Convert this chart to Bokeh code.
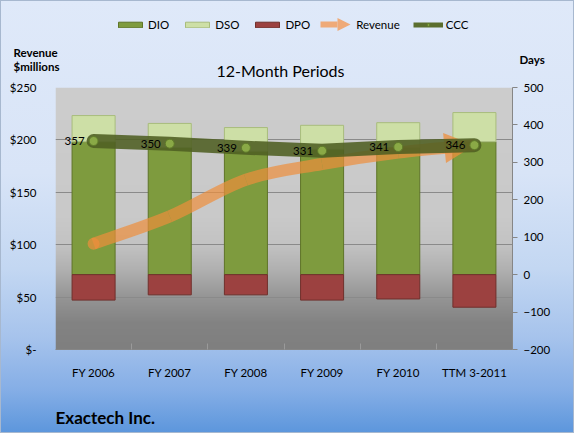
import numpy as np
from bokeh.plotting import figure
from bokeh.layouts import column
from bokeh.models import (Range1d, LinearAxis, FixedTicker, Legend, LegendItem, Label,
                          Arrow, NormalHead, ColumnDataSource, Grid)
from bokeh.embed import file_html
from bokeh.resources import INLINE
from bokeh.core.properties import value

# ---------------- data ----------------
categories = ["FY 2006", "FY 2007", "FY 2008", "FY 2009", "FY 2010", "TTM 3-2011"]
dio = [355, 340, 330, 335, 340, 355]          # days inventory outstanding
dso = [70, 64, 63, 64, 66, 78]                # days sales outstanding
dpo = [68, 54, 54, 68, 65, 87]                # days payables outstanding
ccc = [357, 350, 339, 331, 341, 346]          # cash conversion cycle
revenue = [101, 127, 162, 177, 188, 195]      # $ millions
revenue_ticks = [0, 50, 100, 150, 200, 250]
revenue_tick_labels = ["$-", "$50", "$100", "$150", "$200", "$250"]
days_ticks = [-200, -100, 0, 100, 200, 300, 400, 500]

FONT = "Lato"
W, H = 574, 433
HEAD_H, FOOT_H = 80, 48
MAIN_H = H - HEAD_H - FOOT_H
FL, FR, FT, FB = 55, 512, 87, 349   # frame edges on the page (px)

C_DIO, C_DIO_L = "#7e9b3e", "#5e7428"
C_DSO, C_DSO_L = "#cddfa6", "#a8bc7c"
C_DPO, C_DPO_L = "#9c4140", "#70302c"
ORANGE = "#ee8f3c"
C_CCC = "#4e5f22"


def blank(height):
    f = figure(width=W, height=height, output_backend="svg", toolbar_location=None,
               x_range=Range1d(0, W), y_range=Range1d(height, 0),
               x_axis_location=None, y_axis_location=None,
               min_border=0, frame_align=False)
    f.xgrid.visible = False
    f.ygrid.visible = False
    f.border_fill_alpha = 0
    f.background_fill_alpha = 0
    f.outline_line_color = None
    return f


def lab(f, text, x, y, size, bold=False, align="left"):
    f.add_layout(Label(x=x, y=y, text=text, text_font=FONT, text_font_size=size,
                       text_align=align, text_baseline="middle", text_color="#000000",
                       text_font_style="bold" if bold else "normal"))


# ---------------- header: legend + axis titles ----------------
head = blank(HEAD_H)
d_dio = head.rect(x=[-100], y=[-100], width=1, height=1, fill_color=C_DIO, line_color=C_DIO_L)
d_dso = head.rect(x=[-100], y=[-100], width=1, height=1, fill_color=C_DSO, line_color=C_DSO_L)
d_dpo = head.rect(x=[-100], y=[-100], width=1, height=1, fill_color=C_DPO, line_color=C_DPO_L)
d_rev = head.line(x=[-100, -99], y=[-100, -100], line_alpha=0)
d_ccc_l = head.line(x=[-100, -99], y=[-100, -100], line_color="#5b6e2e", line_width=5)
d_ccc_p = head.scatter(x=[-100], y=[-100], size=7, fill_color="#8aa946", line_color="#5f7a2a")
legend = Legend(items=[
    LegendItem(label="DIO", renderers=[d_dio]),
    LegendItem(label="DSO", renderers=[d_dso]),
    LegendItem(label="DPO", renderers=[d_dpo]),
    LegendItem(label="Revenue", renderers=[d_rev]),
    LegendItem(label="CCC", renderers=[d_ccc_l, d_ccc_p]),
], orientation="horizontal", location=(115, HEAD_H - 31),
    glyph_width=30, glyph_height=7, label_standoff=3, spacing=13, padding=0, margin=0,
    label_text_font=FONT, label_text_font_size="11.5px", label_text_color="#000000",
    border_line_alpha=0, background_fill_alpha=0)
head.add_layout(legend, "center")
# arrow swatch for the Revenue legend entry
head.add_layout(Arrow(end=NormalHead(size=13, fill_color="#efaa78", line_color=None),
                      x_start=320, y_start=24, x_end=350, y_end=24,
                      line_color="#efaa78", line_width=6))

lab(head, "Revenue", 13, 52, "11.5px", True)
lab(head, "$millions", 13, 66, "11.5px", True)
lab(head, "Days", 519, 59, "11.5px", True)
lab(head, "12-Month Periods", 280, 70, "16px", False, "center")

# ---------------- main chart ----------------
xs = list(range(len(categories)))
src = ColumnDataSource(dict(
    x=xs,
    dio=dio,
    dso_top=[a + b for a, b in zip(dio, dso)],
    dpo_neg=[-d for d in dpo],
    zero=[0] * len(xs),
    ccc=ccc,
    ccc_txt=[str(c) for c in ccc],
    rev=revenue,
))

p = figure(width=W, height=MAIN_H, output_backend="svg", toolbar_location=None,
           x_range=Range1d(-0.5, len(categories) - 0.5), y_range=Range1d(0, 250),
           x_axis_location=None, y_axis_location=None, frame_align=False,
           min_border_left=FL, min_border_right=W - FR,
           min_border_top=FT - HEAD_H, min_border_bottom=HEAD_H + MAIN_H - FB)
p.extra_y_ranges = {"days": Range1d(-200, 500)}
p.border_fill_alpha = 0
p.background_fill_alpha = 0
p.outline_line_color = None

# plot-area grey gradient (background only)
stops_t = [0.0, 0.1, 0.2, 0.3, 0.4, 0.5, 1.0]
stops_g = [127, 131, 150, 176, 195, 201, 205]
n = 262
g = np.interp(np.linspace(0, 1, n), stops_t, stops_g).astype(np.uint32)
img = ((255 << 24) | (g << 16) | (g << 8) | g).reshape(n, 1)
p.image_rgba(image=[img], x=-0.5, y=0, dw=len(categories), dh=250, level="image")

p.ygrid.visible = False
p.xgrid.visible = False
p.add_layout(Grid(dimension=1, ticker=FixedTicker(ticks=revenue_ticks),
                  grid_line_color="#8a8a8a", grid_line_width=1))

left = LinearAxis(ticker=FixedTicker(ticks=revenue_ticks),
                  major_label_overrides={t: l for t, l in zip(revenue_ticks, revenue_tick_labels)},
                  axis_line_color=None, major_tick_line_color=None, minor_tick_line_color=None,
                  major_label_standoff=13, major_label_text_font=FONT,
                  major_label_text_font_size="11.5px", major_label_text_color="#000000")
p.add_layout(left, "left")

right = LinearAxis(y_range_name="days", ticker=FixedTicker(ticks=days_ticks),
                   axis_line_color="#868686", major_tick_line_color="#868686",
                   major_tick_out=5, major_tick_in=0, minor_tick_line_color=None,
                   major_label_standoff=6, major_label_text_font=FONT,
                   major_label_text_font_size="11.5px", major_label_text_color="#000000")
p.add_layout(right, "right")

bottom = LinearAxis(ticker=FixedTicker(ticks=xs, minor_ticks=[i + 0.5 for i in xs[:-1]]),
                    major_label_overrides={i: c for i, c in zip(xs, categories)},
                    axis_line_color="#868686", major_tick_line_color=None,
                    minor_tick_line_color="#9a9a9a", minor_tick_in=6, minor_tick_out=0,
                    major_label_standoff=10, major_label_text_font=FONT,
                    major_label_text_font_size="11.5px", major_label_text_color="#000000")
p.add_layout(bottom, "below")

# stacked bars on the Days axis
bw = 0.565
p.vbar(x="x", bottom="zero", top="dio", width=bw, source=src, y_range_name="days",
       fill_color=C_DIO, line_color=C_DIO_L, line_width=1)
p.vbar(x="x", bottom="dio", top="dso_top", width=bw, source=src, y_range_name="days",
       fill_color=C_DSO, line_color=C_DSO_L, line_width=1)
p.vbar(x="x", bottom="dpo_neg", top="zero", width=bw, source=src, y_range_name="days",
       fill_color=C_DPO, line_color=C_DPO_L, line_width=1)

# revenue smoothed line (Catmull-Rom control points -> Bezier glyph) on left axis
rx = np.array(xs, dtype=float)
ry = np.array(revenue, dtype=float)
px_ = np.concatenate([[rx[0]], rx, [rx[-1]]])
py_ = np.concatenate([[ry[0]], ry, [ry[-1]]])
seg = dict(x0=[], y0=[], x1=[], y1=[], cx0=[], cy0=[], cx1=[], cy1=[])
for i in range(len(rx) - 1):
    seg["x0"].append(rx[i]); seg["y0"].append(ry[i])
    seg["x1"].append(rx[i + 1]); seg["y1"].append(ry[i + 1])
    seg["cx0"].append(rx[i] + (px_[i + 2] - px_[i]) / 6)
    seg["cy0"].append(ry[i] + (py_[i + 2] - py_[i]) / 6)
    seg["cx1"].append(rx[i + 1] - (px_[i + 3] - px_[i + 1]) / 6)
    seg["cy1"].append(ry[i + 1] - (py_[i + 3] - py_[i + 1]) / 6)
p.bezier(source=ColumnDataSource(seg), x0="x0", y0="y0", x1="x1", y1="y1",
         cx0="cx0", cy0="cy0", cx1="cx1", cy1="cy1",
         line_color=ORANGE, line_alpha=0.7, line_width=12, line_cap="butt")
p.scatter(x=[rx[0]], y=[ry[0]], size=12, marker="circle", fill_color=ORANGE,
          fill_alpha=0.7, line_color=None)
p.add_layout(Arrow(end=NormalHead(size=30, fill_color=ORANGE, fill_alpha=0.75, line_color=None),
                   x_start=seg["cx1"][-1], y_start=seg["cy1"][-1], x_end=rx[-1], y_end=ry[-1],
                   line_alpha=0, level="glyph"))

# CCC line on days axis (drawn above the revenue arrow)
p.line(x="x", y="ccc", source=src, y_range_name="days", line_color=C_CCC,
       line_alpha=0.88, line_width=14, line_cap="round", line_join="round", level="annotation")
p.scatter(x="x", y="ccc", source=src, y_range_name="days", size=9,
          fill_color="#8aa946", line_color="#5f7a2a", line_width=1, level="annotation")
p.text(x="x", y="ccc", text="ccc_txt", source=src, y_range_name="days", x_offset=-9,
       text_align="right", text_baseline="middle", text_font=value(FONT),
       text_font_size="11.5px", text_color="#000000", level="annotation")

# ---------------- footer: company name ----------------
foot = blank(FOOT_H)
lab(foot, "Exactech Inc.", 55, 417 - HEAD_H - MAIN_H, "17px", True)

page = column(head, p, foot, spacing=0,
              styles={"background-image": "linear-gradient(to bottom, #dfe9f9 0%, #d8e4f7 40%, #c3d7f2 62%, #a6c3ec 78%, #85aee6 90%, #5c96dc 100%)",
                      "box-shadow": "inset 0 0 0 1px #a7b8cf"})

open("out.html", "w").write(file_html(page, INLINE))
